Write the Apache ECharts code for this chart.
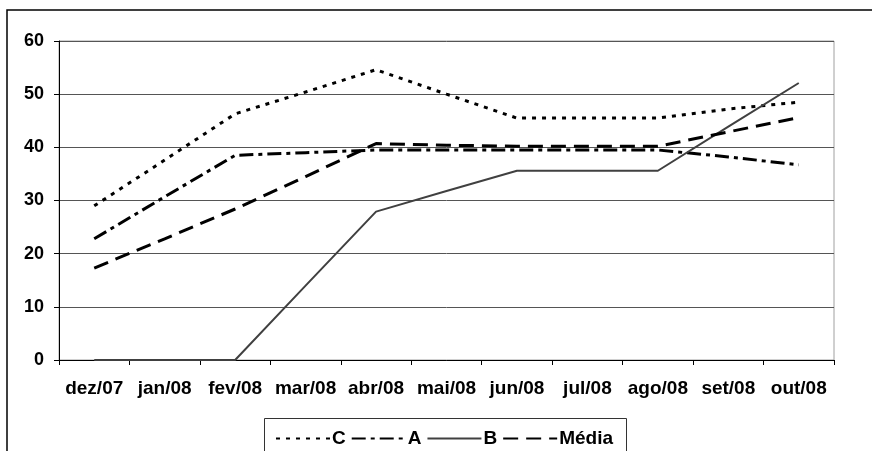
<!DOCTYPE html>
<html>
<head>
<meta charset="utf-8">
<script src="https://cdn.jsdelivr.net/npm/echarts@6/dist/echarts.min.js"></script>
<style>
html,body{margin:0;padding:0;background:#fff;}
#chart{width:872px;height:451px;}
</style>
</head>
<body>
<div id="chart"></div>
<script>
var categories = ['dez/07','jan/08','fev/08','mar/08','abr/08','mai/08','jun/08','jul/08','ago/08','set/08','out/08'];
var seriesC = [29, 37.6, 46.3, 50.4, 54.6, 50, 45.5, 45.5, 45.5, 47.2, 48.5];
var seriesA = [22.8, 30.7, 38.5, 39, 39.5, 39.5, 39.5, 39.5, 39.5, 38.2, 36.7];
var seriesB = [0, 0, 0, 14, 27.9, 31.8, 35.6, 35.6, 35.6, 43.9, 52.1];
var seriesMedia = [17.3, 22.8, 28.4, 34.5, 40.7, 40.4, 40.2, 40.2, 40.2, 42.9, 45.6];
var yTicks = {min: 0, max: 60, interval: 10};

var font = '"Liberation Sans", Arial, sans-serif';
var chart = echarts.init(document.getElementById('chart'), null, {renderer: 'canvas'});
function lineSeries(name, data, color, width, type) {
  return {
    name: name, type: 'line', data: data, symbol: 'none', showSymbol: false,
    smooth: false, animation: false,
    lineStyle: {color: color, width: width, type: type, cap: 'butt'},
    itemStyle: {color: color}
  };
}
chart.setOption({
  animation: false,
  backgroundColor: '#fff',
  graphic: [
    {type: 'rect', shape: {x: 7, y: 10, width: 900, height: 500}, style: {fill: null, stroke: '#000', lineWidth: 1.5}, silent: true, z: 0},
    {type: 'rect', shape: {x: 264.5, y: 418.5, width: 362, height: 60}, style: {fill: '#fff', stroke: '#333', lineWidth: 1}, silent: true, z: 1}
  ],
  grid: {left: 59, right: 38, top: 41, bottom: 91, show: true, borderColor: '#a0a0a0', borderWidth: 1, backgroundColor: 'transparent'},
  legend: {
    data: ['C', 'A', 'B', 'Média'],
    left: 270, top: 424, itemWidth: 54, itemHeight: 14, itemGap: 5,
    itemStyle: {opacity: 0},
    textStyle: {fontFamily: font, fontWeight: 'bold', fontSize: 19, color: '#000', padding: [0, 0, 0, -3]},
    z: 5
  },
  xAxis: {
    type: 'category', data: categories, boundaryGap: true,
    axisLine: {lineStyle: {color: '#000', width: 1}},
    axisTick: {show: true, alignWithLabel: false, length: 5, lineStyle: {color: '#000'}},
    axisLabel: {interval: 0, margin: 19, fontFamily: font, fontWeight: 'bold', fontSize: 19, color: '#000'},
    splitLine: {show: false}
  },
  yAxis: {
    type: 'value', min: yTicks.min, max: yTicks.max, interval: yTicks.interval,
    axisLine: {show: true, lineStyle: {color: '#000', width: 1}},
    axisTick: {show: true, length: 5, lineStyle: {color: '#000'}},
    axisLabel: {margin: 15, fontFamily: font, fontWeight: 'bold', fontSize: 18, color: '#000'},
    splitLine: {show: true, lineStyle: {color: '#555', width: 1}}
  },
  series: [
    lineSeries('C', seriesC, '#000', 3, [4, 6]),
    lineSeries('A', seriesA, '#000', 3, [14, 5, 4, 5]),
    lineSeries('B', seriesB, '#404040', 2, 'solid'),
    lineSeries('Média', seriesMedia, '#000', 3, [15, 8])
  ]
});
</script>
</body>
</html>
